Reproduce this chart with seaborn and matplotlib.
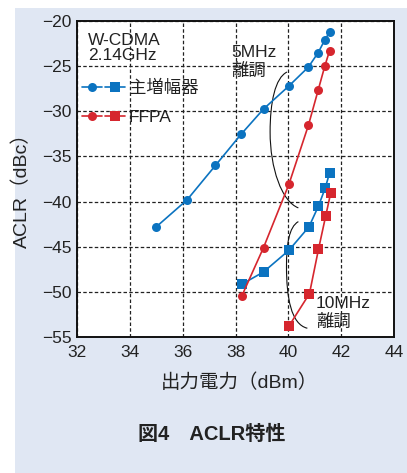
import numpy as np
import pandas as pd
import seaborn as sns
import matplotlib
matplotlib.use("Agg")
import matplotlib.pyplot as plt
from matplotlib.lines import Line2D
from matplotlib.patches import Rectangle, PathPatch
from matplotlib.path import Path
from matplotlib.legend_handler import HandlerTuple

# ---- data ----
amp_names = ["主増幅器", "FFPA"]
sep_names = ["5MHz", "10MHz"]

main_5_x = [35.0, 36.17, 37.24, 38.21, 39.06, 40.02, 40.76, 41.13, 41.38, 41.56]
main_5_y = [-42.8, -39.8, -36.0, -32.55, -29.75, -27.2, -25.1, -23.5, -22.1, -21.25]
ffpa_5_x = [38.24, 39.06, 40.02, 40.76, 41.13, 41.38, 41.56]
ffpa_5_y = [-50.45, -45.1, -38.1, -31.55, -27.65, -25.0, -23.3]
main_10_x = [38.24, 39.06, 40.02, 40.78, 41.14, 41.39, 41.56]
main_10_y = [-49.15, -47.8, -45.4, -42.8, -40.5, -38.55, -36.85]
ffpa_10_x = [40.02, 40.8, 41.14, 41.41, 41.6]
ffpa_10_y = [-53.8, -50.2, -45.3, -41.65, -39.1]

x_ticks = [32, 34, 36, 38, 40, 42, 44]
y_ticks = [-20, -25, -30, -35, -40, -45, -50, -55]

# bracket curves (annotation guides), cubic Bezier vertices in data units
arc5_pts = [(39.95, -25.65), (39.5, -26.3), (39.31, -29.0), (39.31, -32.3),
            (39.31, -36.3), (39.75, -40.0), (40.38, -40.7)]
arc10_pts = [(40.38, -42.22), (40.02, -42.8), (39.93, -44.8), (39.93, -47.2),
             (39.93, -50.6), (40.1, -53.6), (40.72, -54.03)]

BLUE = "#0b73c0"
RED = "#d6262e"

rows = []
for amp, sep, xs, ys in [("主増幅器", "5MHz", main_5_x, main_5_y),
                         ("主増幅器", "10MHz", main_10_x, main_10_y),
                         ("FFPA", "5MHz", ffpa_5_x, ffpa_5_y),
                         ("FFPA", "10MHz", ffpa_10_x, ffpa_10_y)]:
    for xv, yv in zip(xs, ys):
        rows.append({"amp": amp, "sep": sep, "x": xv, "y": yv})
df = pd.DataFrame(rows)

sns.set_theme(style="white")
plt.rcParams["font.family"] = ["Liberation Sans", "Noto Sans CJK JP", "DejaVu Sans"]
plt.rcParams["axes.unicode_minus"] = True

fig = plt.figure(figsize=(4.07, 4.73), dpi=100)
fig.patch.set_facecolor("white")
fig.patches.append(Rectangle((15 / 407, 0), 1, 1 - 8 / 473, transform=fig.transFigure,
                             facecolor="#e0e7f3", edgecolor="none", zorder=-10))

ax = fig.add_axes([77 / 407, 1 - 337 / 473, (394 - 77) / 407, (337 - 21) / 473])
ax.set_facecolor("white")

sns.lineplot(data=df, x="x", y="y", hue="amp", style="sep",
             hue_order=amp_names, style_order=sep_names,
             palette={"主増幅器": BLUE, "FFPA": RED},
             markers={"5MHz": "o", "10MHz": "s"}, dashes=False,
             estimator=None, sort=False, legend=False,
             markersize=6.5, markeredgewidth=0, linewidth=1.2, ax=ax, zorder=3)

ax.set_xlim(32, 44)
ax.set_ylim(-55, -20)
ax.set_xticks(x_ticks)
ax.set_yticks(y_ticks)
ax.tick_params(axis="both", length=0, labelsize=12.5, colors="#222222")
ax.tick_params(axis="x", pad=6)
ax.tick_params(axis="y", pad=4)
ax.grid(True, color="#222222", linestyle=(0, (2.8, 1.8)), linewidth=0.9)
for s in ax.spines.values():
    s.set_visible(True)
    s.set_color("#111111")
    s.set_linewidth(1.4)

ax.set_xlabel("出力電力（dBm）", fontsize=14, color="#222222")
ax.set_ylabel("ACLR（dBc）", fontsize=14, color="#222222")
ax.xaxis.set_label_coords(0.514, -0.115)
ax.yaxis.set_label_coords(-0.145, 0.48)

# annotation texts
ax.text(32.42, -21.3, "W-CDMA\n2.14GHz", fontsize=12.5, color="#222222",
        va="top", ha="left", linespacing=1.0)
ax.text(37.83, -22.7, "5MHz\n離調", fontsize=12.5, color="#222222",
        va="top", ha="left", linespacing=1.15)
ax.text(41.05, -50.5, "10MHz\n離調", fontsize=12.5, color="#222222",
        va="top", ha="left", linespacing=1.15)

codes = [Path.MOVETO] + [Path.CURVE4] * 6
for pts in (arc5_pts, arc10_pts):
    ax.add_patch(PathPatch(Path(pts, codes), facecolor="none", edgecolor="#111111",
                           linewidth=0.8, zorder=2))

# legend
def mk(color, marker):
    return Line2D([], [], color=color, marker=marker, markersize=6.5,
                  markeredgewidth=0, linewidth=1.2)

handles = [(mk(BLUE, "o"), mk(BLUE, "s")), (mk(RED, "o"), mk(RED, "s"))]
leg = ax.legend(handles, amp_names, handler_map={tuple: HandlerTuple(ndivide=None, pad=0.2)},
                loc="upper left", bbox_to_anchor=(0.015, 0.815), frameon=False,
                fontsize=12.5, handlelength=2.5, handletextpad=0.2, labelspacing=0.8,
                borderpad=0.0, borderaxespad=0.0, numpoints=1)
for t in leg.get_texts():
    t.set_color("#222222")

fig.text(0.52, 1 - 434 / 473, "図4　ACLR特性", fontsize=14.5, fontweight="bold",
         ha="center", va="center", color="#222222")

fig.savefig("out.png", dpi=100)
